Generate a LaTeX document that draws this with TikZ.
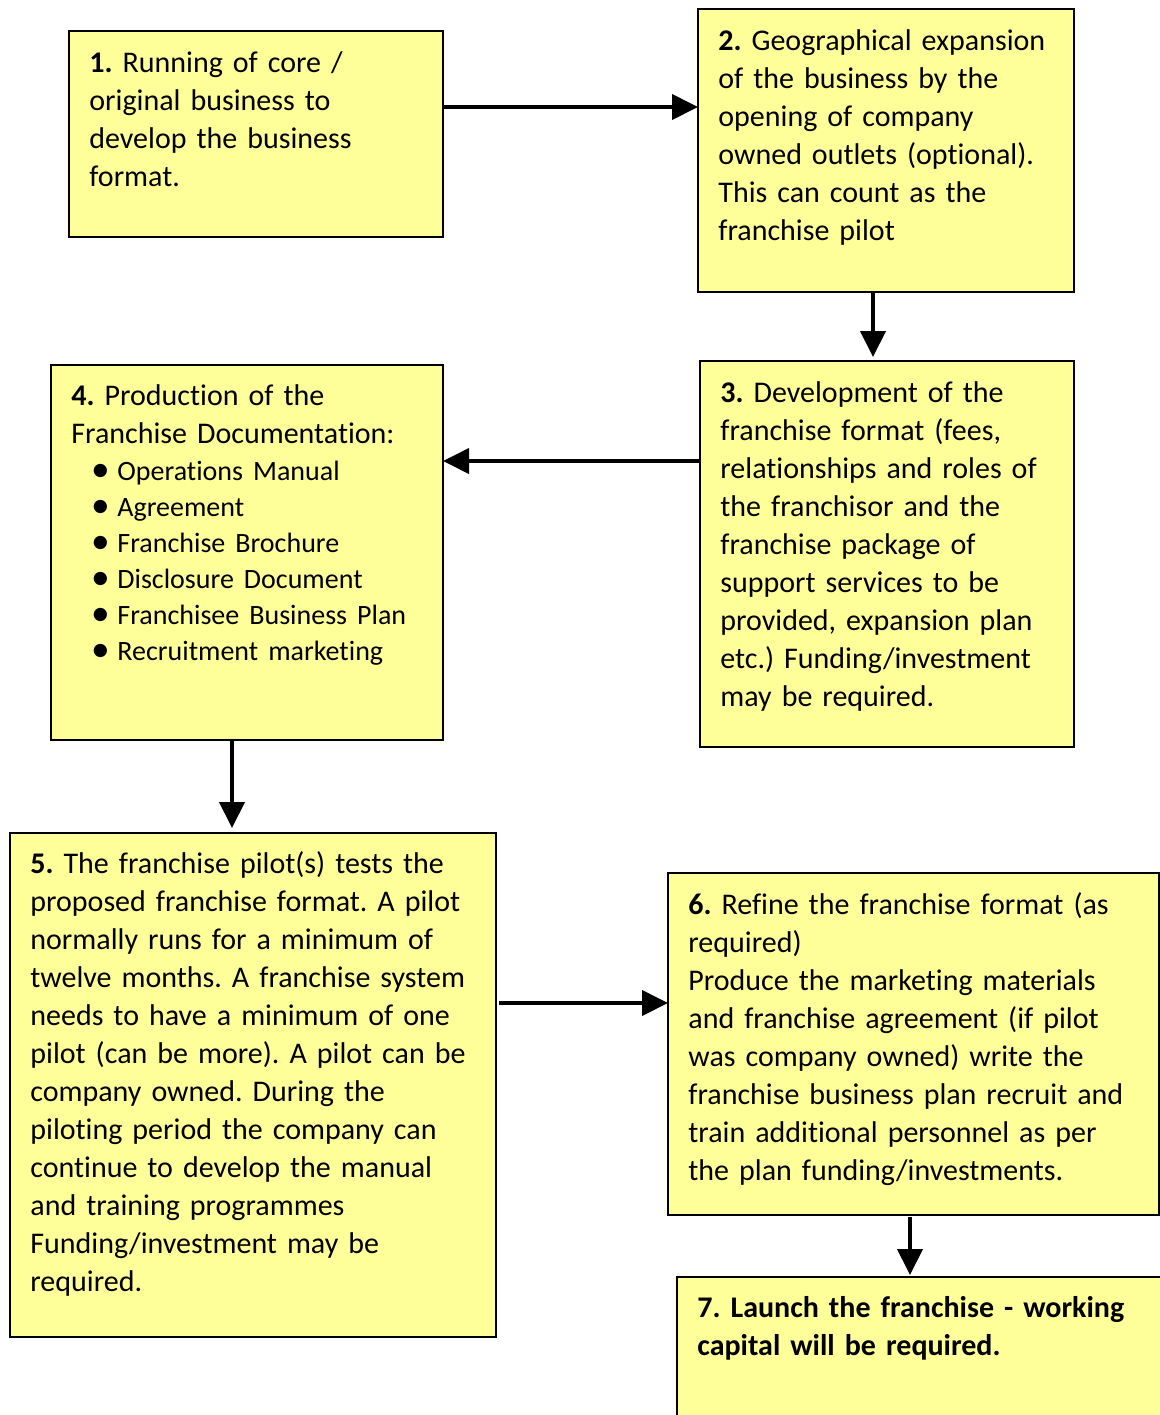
\documentclass[tikz,border=0pt]{standalone}
\usepackage{fontspec}
\setmainfont{Carlito}[Ligatures=NoCommon]
\usetikzlibrary{arrows.meta}
\definecolor{stageyellow}{RGB}{255,255,153}
\frenchspacing
\newcommand{\docitem}[1]{\hspace*{11.5pt}\makebox[6pt][c]{\raisebox{-0.05em}{\scalebox{1.25}{\textbullet}}}\hspace*{5.5pt}{\fontsize{14pt}{19pt}\selectfont #1}}

\begin{document}
\begin{tikzpicture}[x=0.5pt,y=-0.5pt,
	stage/.style={draw, line width=1pt, fill=stageyellow, anchor=north west, inner sep=0pt, outer sep=0pt},
	txt/.style={anchor=base west, inner sep=0pt, text width=240pt, align=left, font=\fontsize{15pt}{19pt}\selectfont},
	flow/.style={-{Triangle[length=13pt,width=12.5pt]}, line width=2pt}
]
	\useasboundingbox (0,0) rectangle (1160,1415);

	% stage boxes
	\node[stage, minimum width=187pt, minimum height=103pt] (s1) at (69,31) {};
	\node[stage, minimum width=188pt, minimum height=141.5pt] (s2) at (698,9) {};
	\node[stage, minimum width=187pt, minimum height=193pt] (s3) at (700,361) {};
	\node[stage, minimum width=196pt, minimum height=187.5pt] (s4) at (51,365) {};
	\node[stage, minimum width=243pt, minimum height=252pt] (s5) at (10,833) {};
	\node[stage, minimum width=245.5pt, minimum height=171pt] (s6) at (668,873) {};
	\node[stage, minimum width=300pt, minimum height=150pt] (s7) at (677,1277) {};

	% texts
	\node[txt] (t1) at (89,72) {\textbf{1.} Running of core /\\ original business to\\ develop the business\\ format.};
	\node[txt] (t2) at (718,50) {\textbf{2.} Geographical expansion\\ of the business by the\\ opening of company\\ owned outlets (optional).\\ This can count as the\\ franchise pilot};
	\node[txt] (t3) at (720,402) {\textbf{3.} Development of the\\ franchise format (fees,\\ relationships and roles of\\ the franchisor and the\\ franchise package of\\ support services to be\\ provided, expansion plan\\ etc.) Funding/investment\\ may be required.};
	\node[txt] (t4) at (71,405) {\textbf{4.} Production of the\\ Franchise Documentation:\\[-0.5pt]
		\docitem{Operations Manual}\\[-1pt]
		\docitem{Agreement}\\[-1pt]
		\docitem{Franchise Brochure}\\[-1pt]
		\docitem{Disclosure Document}\\[-1pt]
		\docitem{Franchisee Business Plan}\\[-1pt]
		\docitem{Recruitment marketing}};
	\node[txt] (t5) at (30,873) {\textbf{5.} The franchise pilot(s) tests the\\ proposed franchise format. A pilot\\ normally runs for a minimum of\\ twelve months. A franchise system\\ needs to have a minimum of one\\ pilot (can be more). A pilot can be\\ company owned. During the\\ piloting period the company can\\ continue to develop the manual\\ and training programmes\\ Funding/investment may be\\ required.};
	\node[txt] (t6) at (688,914) {\textbf{6.} Refine the franchise format (as\\ required)\\ Produce the marketing materials\\ and franchise agreement (if pilot\\ was company owned) write the\\ franchise business plan recruit and\\ train additional personnel as per\\ the plan funding/investments.};
	\node[txt, font=\fontsize{15pt}{19pt}\selectfont\bfseries] (t7) at (697,1317) {7. Launch the franchise - working\\ capital will be required.};

	% arrows
	\draw[flow] (s1.east |- 0,107) -- (s2.west |- 0,107);
	\draw[flow, shorten >=2pt] (873,0 |- s2.south) -- (873,0 |- s3.north);
	\draw[flow] (s3.west |- 0,461) -- (s4.east |- 0,461);
	\draw[flow, shorten >=2.5pt] (232,0 |- s4.south) -- (232,0 |- s5.north);
	\draw[flow, shorten <=1.5pt] (s5.east |- 0,1003) -- (s6.west |- 0,1003);
	\draw[flow, shorten <=1pt, shorten >=1pt] (910,0 |- s6.south) -- (910,0 |- s7.north);
\end{tikzpicture}
\end{document}
